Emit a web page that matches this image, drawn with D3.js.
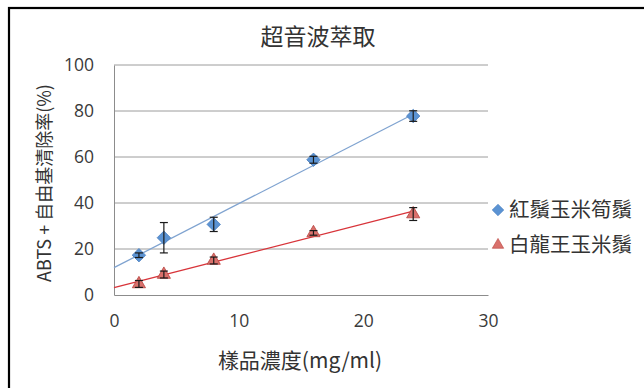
<!DOCTYPE html>
<html>
<head>
<meta charset="utf-8">
<script src="https://cdn.jsdelivr.net/npm/d3@7"></script>
<style>
  html, body { margin: 0; padding: 0; background: #fff; }
  svg { display: block; font-family: "Noto Sans CJK TC", "Noto Sans", sans-serif; }
</style>
</head>
<body>
<script>
// Concentration levels (mg/ml)
const concentrations = [2, 4, 8, 16, 24];
// ABTS+ radical scavenging rate (%) and standard deviations
const seriesNames = ["紅鬚玉米筍鬚", "白龍王玉米鬚"];
const redSilkCornValues = [17.3, 24.9, 30.7, 58.8, 77.8];
const redSilkCornErrors = [1.0, 6.6, 3.1, 1.5, 2.3];
const whiteDragonValues = [4.8, 8.9, 15.0, 27.0, 35.2];
const whiteDragonErrors = [1.5, 1.5, 1.5, 1.0, 2.8];
const xTicks = [0, 10, 20, 30];
const yTicks = [0, 20, 40, 60, 80, 100];

const W = 644, H = 388;
const margin = { left: 114, right: 156, top: 65, bottom: 93 };

const svg = d3.select("body").append("svg").attr("width", W).attr("height", H);
svg.append("rect").attr("width", W).attr("height", H).attr("fill", "#fff");

// outer frame
svg.append("rect").attr("x", 9).attr("y", 8).attr("width", 700).attr("height", 500)
  .attr("fill", "none").attr("stroke", "#000").attr("stroke-width", 2.2);

const x = d3.scaleLinear().domain([0, 30]).range([margin.left, W - margin.right]);
const y = d3.scaleLinear().domain([0, 100]).range([H - margin.bottom, margin.top]);

// gridlines
svg.append("g").selectAll("line").data(yTicks.filter(d => d > 0)).join("line")
  .attr("x1", x(0)).attr("x2", x(30)).attr("y1", d => y(d)).attr("y2", d => y(d))
  .attr("stroke", "#9c9c9c").attr("stroke-width", 1);

// axes
const yAxis = svg.append("g").attr("transform", `translate(${x(0)},0)`)
  .call(d3.axisLeft(y).tickValues(yTicks).tickSize(0).tickPadding(20));
const xAxis = svg.append("g").attr("transform", `translate(0,${y(0)})`)
  .call(d3.axisBottom(x).tickValues(xTicks).tickSize(0).tickPadding(20));
[yAxis, xAxis].forEach(g => {
  g.select(".domain").attr("stroke", "#8c8c8c").attr("stroke-width", 1);
  g.selectAll("text").attr("font-size", 17.5).attr("fill", "#3a3a3a")
    .attr("font-family", "'Open Sans', 'Noto Sans CJK TC', sans-serif");
});

// least-squares trendline from a series
function fit(xs, ys) {
  const mx = d3.mean(xs), my = d3.mean(ys);
  const sxy = d3.sum(xs, (v, i) => (v - mx) * (ys[i] - my));
  const sxx = d3.sum(xs, v => (v - mx) * (v - mx));
  const b = sxy / sxx;
  return { a: my - b * mx, b };
}

const series = [
  { name: seriesNames[0], values: redSilkCornValues, errors: redSilkCornErrors,
    fill: "#5b93d3", stroke: "#4a7fbf", line: "#7fa3d0", symbol: d3.symbolDiamond2, size: 115 },
  { name: seriesNames[1], values: whiteDragonValues, errors: whiteDragonErrors,
    fill: "#d9716c", stroke: "#b8413d", line: "#d8343a", symbol: d3.symbolTriangle, size: 75 }
];

series.forEach(s => {
  const f = fit(concentrations, s.values);
  svg.append("line")
    .attr("x1", x(0)).attr("y1", y(f.a))
    .attr("x2", x(24)).attr("y2", y(f.a + f.b * 24))
    .attr("stroke", s.line).attr("stroke-width", 1.3);
});

series.forEach(s => {
  const pts = concentrations.map((c, i) => ({ c, v: s.values[i], e: s.errors[i] }));
  const g = svg.append("g");
  g.selectAll("path.mk").data(pts).join("path").attr("class", "mk")
    .attr("transform", d => `translate(${x(d.c)},${y(d.v)})`)
    .attr("d", d3.symbol().type(s.symbol).size(s.size))
    .attr("fill", s.fill).attr("stroke", s.stroke).attr("stroke-width", 0.8);
  const eb = g.selectAll("g.eb").data(pts).join("g").attr("class", "eb")
    .attr("stroke", "#1a1a1a").attr("stroke-width", 1.2);
  eb.append("line").attr("x1", d => x(d.c)).attr("x2", d => x(d.c))
    .attr("y1", d => y(d.v - d.e)).attr("y2", d => y(d.v + d.e));
  eb.append("line").attr("x1", d => x(d.c) - 4).attr("x2", d => x(d.c) + 4)
    .attr("y1", d => y(d.v + d.e)).attr("y2", d => y(d.v + d.e));
  eb.append("line").attr("x1", d => x(d.c) - 4).attr("x2", d => x(d.c) + 4)
    .attr("y1", d => y(d.v - d.e)).attr("y2", d => y(d.v - d.e));
});

// title
svg.append("text").attr("x", 318).attr("y", 45).attr("text-anchor", "middle")
  .attr("font-size", 23).attr("fill", "#333").text("超音波萃取");

// axis titles
svg.append("text").attr("x", 300).attr("y", 368).attr("text-anchor", "middle")
  .attr("font-size", 21).attr("fill", "#333").text("樣品濃度(mg/ml)");
svg.append("text").attr("transform", "translate(51,183) rotate(-90)")
  .attr("text-anchor", "middle").attr("font-size", 18).attr("fill", "#333")
  .text("ABTS + 自由基清除率(%)");

// legend
const legend = svg.append("g");
series.forEach((s, i) => {
  const ly = 210 + i * 35;
  legend.append("path").attr("transform", `translate(498,${ly})`)
    .attr("d", d3.symbol().type(s.symbol).size(s.size * 0.75))
    .attr("fill", s.fill).attr("stroke", s.stroke).attr("stroke-width", 0.6);
  legend.append("text").attr("x", 509).attr("y", ly + 7)
    .attr("font-size", 20.5).attr("fill", "#333").text(s.name);
});
</script>
</body>
</html>
